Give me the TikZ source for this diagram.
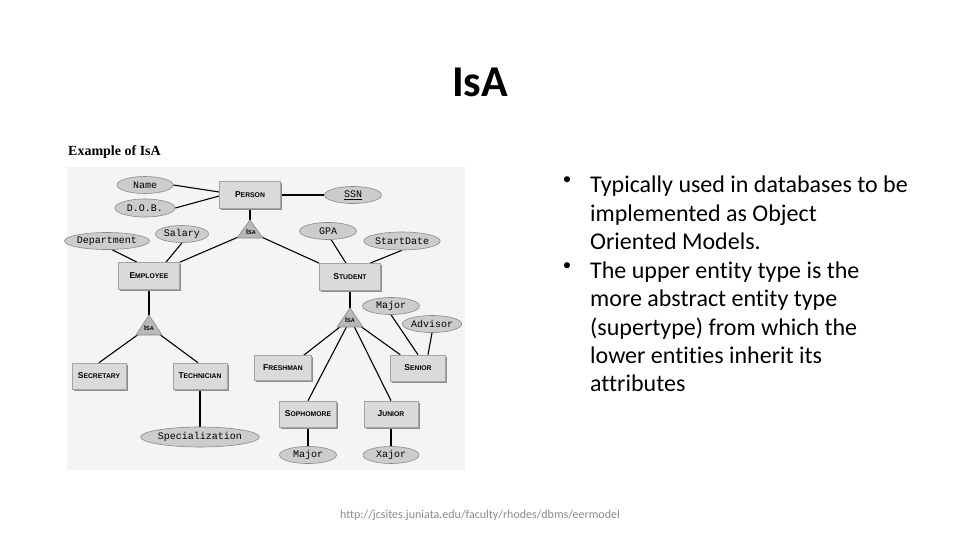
\documentclass[tikz,border=0pt]{standalone}
\usepackage{fontspec}
\setmainfont{Carlito}[Ligatures=NoCommon]
\newfontfamily\erMono{Liberation Mono}
\newfontfamily\erSans{Liberation Sans}
\newfontfamily\erSerif{Liberation Serif}
\usetikzlibrary{shapes.geometric,shadows}
\definecolor{boxfill}{HTML}{DADADA}
\definecolor{boxline}{HTML}{A4A4A4}
\definecolor{boxshade}{HTML}{8E8E8E}
\definecolor{ellfill}{HTML}{CCCCCC}
\definecolor{ellline}{HTML}{8A8A8A}
\definecolor{trifill}{HTML}{B8B8B8}
\definecolor{diagbg}{HTML}{F4F4F4}
\definecolor{urlgray}{HTML}{8A8A8A}
\pgfdeclarelayer{back}
\pgfdeclarelayer{lines}
\pgfsetlayers{back,lines,main}
\newcommand{\erent}[2]{{\erSans\bfseries\fontsize{8.5}{9}\selectfont #1\fontsize{6.8}{9}\selectfont #2}}
\newcommand{\erisa}{{\erSans\bfseries\fontsize{7}{8}\selectfont I\fontsize{5.6}{8}\selectfont SA}}
\begin{document}
\begin{tikzpicture}[x=1pt,y=-1pt,
  entity/.style={rectangle, fill=boxfill, draw=boxline, line width=0.6pt, inner sep=0pt,
    drop shadow={shadow xshift=1.6pt, shadow yshift=-1.6pt, fill=boxshade, opacity=1}},
  attr/.style={ellipse, fill=ellfill, draw=ellline, line width=0.6pt, inner sep=0pt,
    minimum width=57pt, minimum height=17pt, font=\erMono\fontsize{10}{10}\selectfont},
  isatri/.style={fill=trifill, draw=ellline, line width=0.6pt},
  isalabel/.style={inner sep=0pt},
  conn/.style={line width=1.1pt, black},
  bul/.style={inner sep=0pt, font=\fontsize{24}{28}\selectfont},
  bulmark/.style={inner sep=0pt, font=\fontsize{17}{20}\selectfont},
]
\useasboundingbox (0,0) rectangle (960,540);
\begin{pgfonlayer}{back}
\fill[white] (0,0) rectangle (960,540);
\fill[diagbg] (67,167) rectangle (465,470);
\end{pgfonlayer}

% title
\node[inner sep=0pt, anchor=base, font=\bfseries\fontsize{44}{50}\selectfont] (title) at (480,97) {IsA};

% caption of figure
\node[inner sep=0pt, anchor=base west, font=\erSerif\bfseries\fontsize{14}{16}\selectfont] (cap) at (68,156) {Example of IsA};

% entities
\node[entity, minimum width=61pt, minimum height=27pt] (person) at (250,195) {\erent{P}{ERSON}};
\node[entity, minimum width=61pt, minimum height=27pt] (employee) at (149,276) {\erent{E}{MPLOYEE}};
\node[entity, minimum width=61pt, minimum height=27pt] (student) at (350,277) {\erent{S}{TUDENT}};
\node[entity, minimum width=54pt, minimum height=26pt] (secretary) at (99,376) {\erent{S}{ECRETARY}};
\node[entity, minimum width=54pt, minimum height=26pt] (technician) at (200,376) {\erent{T}{ECHNICIAN}};
\node[entity, minimum width=57pt, minimum height=25pt] (freshman) at (283,368) {\erent{F}{RESHMAN}};
\node[entity, minimum width=55pt, minimum height=26pt] (senior) at (418,368) {\erent{S}{ENIOR}};
\node[entity, minimum width=57pt, minimum height=26pt] (sophomore) at (308,414) {\erent{S}{OPHOMORE}};
\node[entity, minimum width=54pt, minimum height=26pt] (junior) at (391,414) {\erent{J}{UNIOR}};

% attributes
\node[attr, minimum width=56pt] (name) at (145,185) {Name};
\node[attr, minimum width=60pt, minimum height=18pt] (dob) at (145,208) {D.O.B.};
\node[attr] (ssn) at (353,195) {\underline{SSN}};
\node[attr, minimum width=73pt] (department) at (107,241) {Department};
\node[attr, minimum width=53pt] (salary) at (182,234) {Salary};
\node[attr] (gpa) at (328,231) {GPA};
\node[attr, minimum width=58pt, minimum height=18pt] (startdate) at (402,241) {StartDate};
\node[attr] (major1) at (391,306) {Major};
\node[attr] (advisor) at (432,324) {Advisor};
\node[attr, minimum width=94pt, minimum height=20pt] (special) at (200,437) {Specialization};
\node[attr] (major2) at (308,455) {Major};
\node[attr, minimum width=56pt] (xajor) at (391,455) {Xajor};

% IsA triangles
\coordinate (t1a) at (250,220);
\coordinate (t1l) at (243,235);
\coordinate (t1r) at (257,235);
\draw[isatri] (t1a) -- (237,238) -- (263,238) -- cycle;
\node[isalabel] (isa1) at (251,232) {\erisa};

\coordinate (t2a) at (149,315);
\coordinate (t2l) at (143,331);
\coordinate (t2r) at (155,331);
\draw[isatri] (t2a) -- (136,335) -- (162,335) -- cycle;
\node[isalabel] (isa2) at (149,328) {\erisa};

\coordinate (t3a) at (350,308);
\coordinate (t3f) at (345,323);
\coordinate (t3s) at (348,324);
\coordinate (t3j) at (353,324);
\coordinate (t3n) at (356,323);
\draw[isatri] (t3a) -- (337,327) -- (363,327) -- cycle;
\node[isalabel] (isa3) at (350,320) {\erisa};

% connectors
\begin{pgfonlayer}{lines}
\draw[conn] (name.east) -- ([yshift=3pt]person.west);
\draw[conn] (dob.east) -- ([yshift=-1pt]person.west);
\draw[conn] (person.east) -- (ssn.west);
\draw[conn] (person.south) -- (t1a);
\draw[conn] (t1l) -- (employee.north east);
\draw[conn] (t1r) -- (student.north west);
\draw[conn] (department.-60) -- ([xshift=-12pt]employee.north);
\draw[conn] (salary.south) -- ([xshift=17pt]employee.north);
\draw[conn] (gpa.-70) -- ([xshift=-4pt]student.north);
\draw[conn] (startdate.south) -- ([xshift=20pt]student.north);
\draw[conn] (employee.south) -- (t2a);
\draw[conn] (t2l) -- (secretary.north);
\draw[conn] (t2r) -- ([xshift=-2pt]technician.north);
\draw[conn] (technician.south) -- (special.north);
\draw[conn] (student.south) -- (t3a);
\draw[conn] (t3f) -- ([xshift=-8pt]freshman.north east);
\draw[conn] (t3s) -- (sophomore.north);
\draw[conn] (t3j) -- (junior.north);
\draw[conn] (t3n) -- ([xshift=10pt]senior.north west);
\draw[conn] (major1.south) -- (senior.north);
\draw[conn] (advisor.south) -- ([xshift=10pt]senior.north);
\draw[conn] (sophomore.south) -- (major2.north);
\draw[conn] (junior.south) -- (xajor.north);
\end{pgfonlayer}

% bullet text
\node[bulmark] (k1) at (567,181) {•};
\node[bul, anchor=base west] (l1) at (590,193) {Typically used in databases to be};
\node[bul, anchor=base west] (l2) at (590,221.4) {implemented as Object};
\node[bul, anchor=base west] (l3) at (590,249.8) {Oriented Models.};
\node[bulmark] (k2) at (567,266.2) {•};
\node[bul, anchor=base west] (l4) at (590,278.2) {The upper entity type is the};
\node[bul, anchor=base west] (l5) at (590,306.6) {more abstract entity type};
\node[bul, anchor=base west] (l6) at (590,335) {(supertype) from which the};
\node[bul, anchor=base west] (l7) at (590,363.4) {lower entities inherit its};
\node[bul, anchor=base west] (l8) at (590,391.8) {attributes};

% source
\node[inner sep=0pt, anchor=base, text=urlgray, font=\fontsize{12}{14}\selectfont] (url) at (480,518) {http://jcsites.juniata.edu/faculty/rhodes/dbms/eermodel};
\end{tikzpicture}
\end{document}
